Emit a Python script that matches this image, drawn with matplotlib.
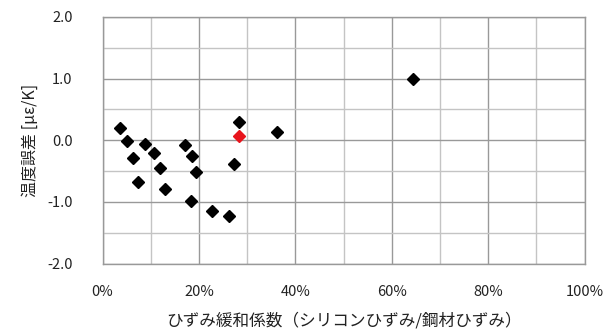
import matplotlib
matplotlib.use("Agg")
import matplotlib.pyplot as plt
from matplotlib.ticker import MultipleLocator, PercentFormatter, FormatStrFormatter

plt.rcParams['font.family'] = ['Noto Sans CJK JP', 'DejaVu Sans']

# strain relaxation ratio (%) and temperature error (με/K)
ratio = [3.7, 5.1, 6.3, 7.3, 8.9, 10.6, 12.0, 12.9, 17.2, 18.6, 19.3, 18.4,
         22.7, 26.3, 27.3, 28.4, 36.1, 64.5]
temp_err = [0.20, -0.01, -0.29, -0.67, -0.06, -0.21, -0.45, -0.79, -0.08, -0.25,
            -0.52, -0.98, -1.15, -1.23, -0.39, 0.30, 0.13, 1.00]
# highlighted sample
hl_ratio = [28.4]
hl_err = [0.07]

fig = plt.figure(figsize=(6.06, 3.36), dpi=100)
ax = fig.add_axes([102.5/606, 1 - 263.5/336, 482/606, 246.5/336])

ax.set_xlim(0, 100)
ax.set_ylim(-2.0, 2.0)
ax.xaxis.set_major_locator(MultipleLocator(20))
ax.xaxis.set_minor_locator(MultipleLocator(10))
ax.yaxis.set_major_locator(MultipleLocator(1.0))
ax.yaxis.set_minor_locator(MultipleLocator(0.5))
ax.xaxis.set_major_formatter(PercentFormatter(decimals=0))
ax.yaxis.set_major_formatter(FormatStrFormatter('%.1f'))

ax.grid(which='major', color='#999999', linewidth=1.0)
ax.grid(which='minor', color='#c4c4c4', linewidth=1.0)
ax.set_axisbelow(True)
for s in ax.spines.values():
    s.set_color('#999999')
    s.set_linewidth(1.0)

ax.tick_params(which='both', length=0, labelsize=10.5, colors='#222222')
ax.tick_params(axis='y', pad=21.5)
ax.tick_params(axis='x', pad=15.5)

ax.plot(ratio, temp_err, linestyle='none', marker='D', markersize=6.5,
        color='black', zorder=3)
ax.plot(hl_ratio, hl_err, linestyle='none', marker='D', markersize=6.5,
        color='#e8141c', zorder=4)

ax.set_xlabel('ひずみ緩和係数（シリコンひずみ/鋼材ひずみ）', fontsize=12,
              color='#222222', labelpad=10)
ax.set_ylabel('温度誤差 [με/K]', fontsize=11.5, color='#222222', labelpad=6)

fig.savefig('out.png', dpi=100)
